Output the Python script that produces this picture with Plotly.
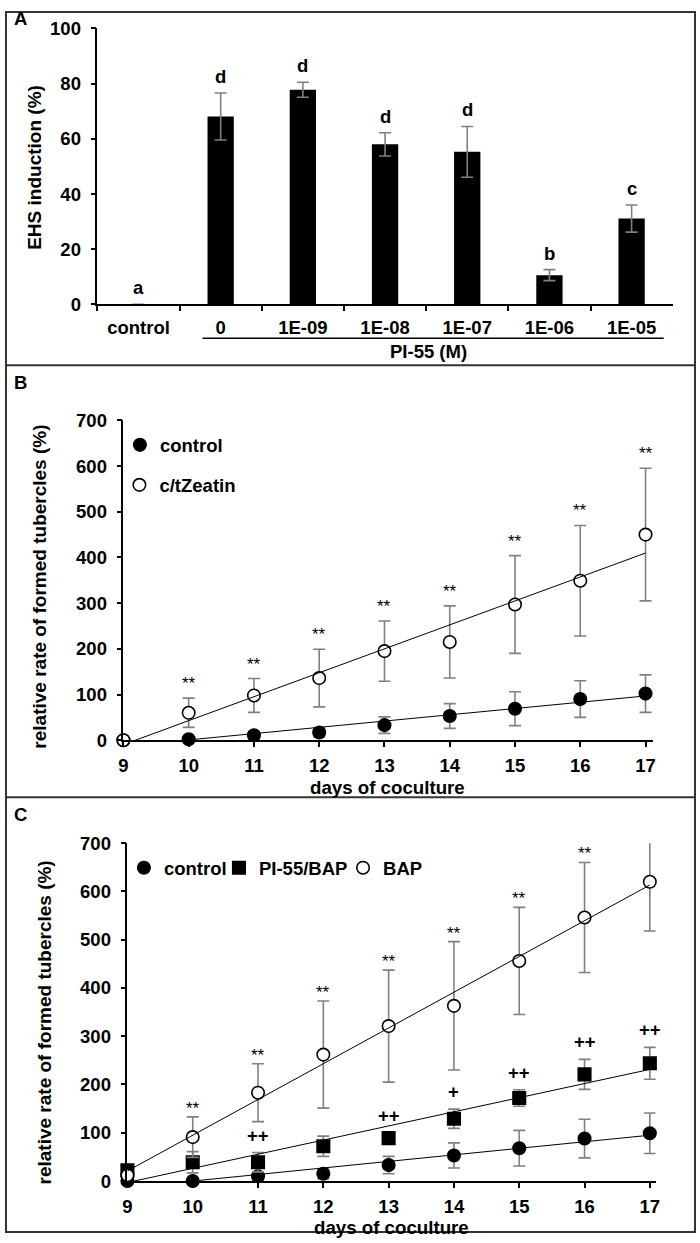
import numpy as np
import plotly.graph_objects as go

# ---------------- data ----------------
# Panel A: EHS induction (%)
a_categories = ["control", "0", "1E-09", "1E-08", "1E-07", "1E-06", "1E-05"]
a_values = [0, 68.1, 77.8, 58.0, 55.3, 10.6, 31.1]
a_errors = [0, 8.5, 2.7, 4.2, 9.2, 2.0, 4.9]
a_letters = ["a", "d", "d", "d", "d", "b", "c"]
a_group_label = "PI-55 (M)"

# Panels B and C: days of coculture
days = [9, 10, 11, 12, 13, 14, 15, 16, 17]

b_control = [0, 2, 11, 17, 33, 53, 69, 90, 102]
b_control_err = [0, 0, 8, 10, 18, 27, 37, 40, 41]
b_zeatin = [0, 60, 98, 136, 195, 215, 297, 349, 450]
b_zeatin_err = [0, 32, 37, 63, 66, 79, 107, 121, 145]
b_sig = ["", "**", "**", "**", "**", "**", "**", "**", "**"]

c_control = [0, 0, 10, 15, 33, 53, 68, 88, 99]
c_control_err = [0, 0, 8, 10, 18, 26, 37, 40, 42]
c_pi55 = [22, 39, 39, 72, 89, 129, 172, 221, 244]
c_pi55_err = [0, 22, 20, 21, 10, 20, 17, 31, 33]
c_bap = [12, 91, 183, 262, 321, 363, 456, 546, 620]
c_bap_err = [0, 42, 60, 111, 116, 133, 111, 114, 102]
c_sig_bap = ["", "**", "**", "**", "**", "**", "**", "**", "**"]
c_sig_pi55 = ["", "", "++", "", "++", "+", "++", "++", "++"]

# ---------------- helpers ----------------
W, H = 700, 1243
FONT = "Liberation Sans, Arial, sans-serif"
ERR_COLOR = "#808080"
# compensation for the slight shrink seen in the rendered photo
AX, SX, AY, SY = 4.65, 0.9866, 10.5, 0.9835


def dx(p):
    return (p - AX) / SX


def dy(p):
    return (p - AY) / SY


def px_x(p):
    return dx(p) / W


def px_y(p):
    return 1 - dy(p) / H


def trend(x, y):
    k, b = np.polyfit(np.array(x, float), np.array(y, float), 1)
    return [k * xi + b for xi in x]


fig = go.Figure()

# ---------------- Panel A ----------------
fig.add_trace(go.Bar(
    x=a_categories, y=a_values, width=0.32,
    marker=dict(color="black", line=dict(width=0)),
    error_y=dict(type="data", array=a_errors, color=ERR_COLOR, thickness=1.6, width=6),
    xaxis="x", yaxis="y", showlegend=False,
))


def marker_trace(x, y, err, name, symbol, fill, xa, ya, legend):
    return go.Scatter(
        x=x, y=y, mode="markers", name=name, cliponaxis=False,
        marker=dict(symbol=symbol, size=12.5, color=fill, line=dict(color="black", width=1.6)),
        error_y=dict(type="data", array=err, color=ERR_COLOR, thickness=1.6, width=6),
        xaxis=xa, yaxis=ya, legend=legend, showlegend=True,
    )


def line_trace(x, y, xa, ya):
    return go.Scatter(
        x=x, y=trend(x, y), mode="lines", line=dict(color="black", width=1),
        xaxis=xa, yaxis=ya, showlegend=False, hoverinfo="skip",
    )


# ---------------- Panel B ----------------
fig.add_trace(marker_trace(days, b_control, b_control_err, "control", "circle", "black", "x2", "y2", "legend"))
fig.add_trace(marker_trace(days, b_zeatin, b_zeatin_err, "c/tZeatin", "circle", "white", "x2", "y2", "legend2"))
fig.add_trace(line_trace(days, b_control, "x2", "y2"))
fig.add_trace(line_trace(days, b_zeatin, "x2", "y2"))

# ---------------- Panel C ----------------
fig.add_trace(marker_trace(days, c_control, c_control_err, "control", "circle", "black", "x3", "y3", "legend3"))
fig.add_trace(marker_trace(days, c_pi55, c_pi55_err, "PI-55/BAP", "square", "black", "x3", "y3", "legend4"))
fig.add_trace(marker_trace(days, c_bap, c_bap_err, "BAP", "circle", "white", "x3", "y3", "legend5"))
fig.add_trace(line_trace(days, c_control, "x3", "y3"))
fig.add_trace(line_trace(days, c_pi55, "x3", "y3"))
fig.add_trace(line_trace(days, c_bap, "x3", "y3"))

# ---------------- annotations ----------------
bold = dict(family=FONT, size=18.5, color="black", weight="bold")
annotations = []

for i, (v, e, t) in enumerate(zip(a_values, a_errors, a_letters)):
    annotations.append(dict(x=i, y=v + e, xref="x", yref="y", text=t, showarrow=False,
                            yanchor="bottom", yshift=4, font=bold))

for d, v, e, t in zip(days, b_zeatin, b_zeatin_err, b_sig):
    if t:
        annotations.append(dict(x=d, y=v + e, xref="x2", yref="y2", text=t, showarrow=False,
                                yanchor="bottom", yshift=3,
                                font=dict(family=FONT, size=17, color="black")))

for d, v, e, t in zip(days, c_bap, c_bap_err, c_sig_bap):
    if t:
        annotations.append(dict(x=d, y=v + e, xref="x3", yref="y3", text=t, showarrow=False,
                                yanchor="bottom", yshift=-3,
                                font=dict(family=FONT, size=17, color="black")))

for d, v, e, t in zip(days, c_pi55, c_pi55_err, c_sig_pi55):
    if t:
        annotations.append(dict(x=d, y=v + e, xref="x3", yref="y3", text=t, showarrow=False,
                                yanchor="bottom", yshift=5, font=bold))

# panel letters
for letter, yy in (("A", 18), ("B", 382), ("C", 814)):
    annotations.append(dict(x=px_x(20), y=px_y(yy), xref="paper", yref="paper", text=letter,
                            showarrow=False, xanchor="center", yanchor="middle", font=bold))

ytitle_font = dict(family=FONT, size=19, color="black", weight="bold")
xtitle_font = dict(family=FONT, size=18.7, color="black", weight="bold")
annotations += [
    dict(x=px_x(34), y=px_y(167), xref="paper", yref="paper", text="EHS induction (%)",
         textangle=-90, showarrow=False, xanchor="center", yanchor="middle", font=ytitle_font),
    dict(x=px_x(428), y=px_y(351), xref="paper", yref="paper", text=a_group_label,
         showarrow=False, xanchor="center", yanchor="middle", font=bold),
    dict(x=px_x(39), y=px_y(586), xref="paper", yref="paper", text="relative rate of formed tubercles (%)",
         textangle=-90, showarrow=False, xanchor="center", yanchor="middle", font=ytitle_font),
    dict(x=px_x(387), y=px_y(787), xref="paper", yref="paper", text="days of coculture",
         showarrow=False, xanchor="center", yanchor="middle", font=xtitle_font),
    dict(x=px_x(44), y=px_y(1022), xref="paper", yref="paper", text="relative rate of formed tubercles (%)",
         textangle=-90, showarrow=False, xanchor="center", yanchor="middle", font=ytitle_font),
    dict(x=px_x(391), y=px_y(1227), xref="paper", yref="paper", text="days of coculture",
         showarrow=False, xanchor="center", yanchor="middle", font=xtitle_font),
]

# ---------------- shapes ----------------
border = dict(color="#333333", width=2)
left, right = 1 / W, 1 - 1 / W
top, bottom = 1 - 1 / H, 1 / H
sep1, sep2 = px_y(365), px_y(797)
shapes = [
    dict(type="rect", xref="paper", yref="paper", x0=left, x1=right, y0=bottom, y1=top, line=border),
    dict(type="line", xref="paper", yref="paper", x0=left, x1=right, y0=sep1, y1=sep1, line=border),
    dict(type="line", xref="paper", yref="paper", x0=left, x1=right, y0=sep2, y1=sep2, line=border),
    dict(type="line", xref="paper", yref="paper", x0=px_x(202), x1=px_x(663), y0=px_y(338), y1=px_y(338),
         line=dict(color="black", width=1.5)),
]

# ---------------- axes ----------------
tickfont = dict(family=FONT, size=18.5, color="black", weight="bold")
common = dict(showgrid=False, zeroline=False, showline=True, linecolor="black", linewidth=1.5,
              ticks="outside", ticklen=5, tickwidth=1.5, tickcolor="black", tickfont=tickfont)
legfont = dict(family=FONT, size=18.5, color="black", weight="bold")


def leg(marker_px, text_px, y_px):
    return dict(x=px_x((marker_px + text_px) / 2 - 32.5), y=px_y(y_px), xanchor="left",
                yanchor="middle", font=legfont, bgcolor="rgba(0,0,0,0)", itemclick=False,
                itemdoubleclick=False)


fig.update_layout(
    width=W, height=H, margin=dict(l=0, r=0, t=0, b=0),
    paper_bgcolor="white", plot_bgcolor="white",
    annotations=annotations, shapes=shapes,
    xaxis=dict(domain=[px_x(97), px_x(672)], anchor="y", type="category", tickson="boundaries",
               range=[-0.5, 6.5], ticklabelstandoff=6, **common),
    yaxis=dict(domain=[px_y(304), px_y(28)], anchor="x", range=[0, 100], tickvals=[0, 20, 40, 60, 80, 100],
               ticklabelstandoff=6, **common),
    xaxis2=dict(domain=[px_x(123), px_x(652)], anchor="y2", range=[9, 17.11], tickvals=days,
                ticklabelstandoff=3, **common),
    yaxis2=dict(domain=[px_y(740), px_y(420)], anchor="x2", range=[0, 700],
                tickvals=[0, 100, 200, 300, 400, 500, 600, 700], ticklabelstandoff=6, **common),
    xaxis3=dict(domain=[px_x(127), px_x(655)], anchor="y3", range=[9, 17.09], tickvals=days,
                ticklabelstandoff=3, **common),
    yaxis3=dict(domain=[px_y(1181), px_y(843)], anchor="x3", range=[0, 700],
                tickvals=[0, 100, 200, 300, 400, 500, 600, 700], ticklabelstandoff=6, **common),
    legend=leg(147, 157, 445),
    legend2=leg(147, 156, 485),
    legend3=leg(152, 160, 868),
    legend4=leg(247, 255, 868),
    legend5=leg(370, 380, 868),
    bargap=0.68,
)

fig.write_html("out.html", config={"displayModeBar": False},
               post_script="document.body.style.margin='0';document.body.style.overflow='hidden';")
